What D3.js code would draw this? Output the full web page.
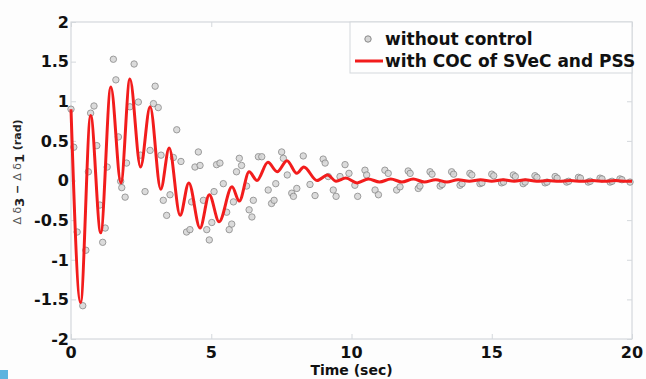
<!DOCTYPE html>
<html>
<head>
<meta charset="utf-8">
<script src="https://cdn.jsdelivr.net/npm/d3@7/dist/d3.min.js"></script>
<style>
  body { margin: 0; background: #fdfdfd; }
  svg { display: block; }
  text { font-family: 'DejaVu Sans', Verdana, sans-serif; font-weight: bold; }
</style>
</head>
<body>
<svg id="chart" width="646" height="379"></svg>
<script>
// red curve: with COC of SVeC and PSS (local extrema)
const cocTime = [0, 0.34, 0.7, 1.06, 1.42, 1.78, 2.1, 2.48, 2.82, 3.2, 3.5, 3.89, 4.2, 4.6, 4.93, 5.28, 5.74, 6.0,
    6.35, 6.63, 7.02, 7.35, 7.7, 8.05, 8.3, 8.77, 9.15, 9.45, 9.8, 10.2, 10.6, 11.0, 11.4, 11.8, 12.2, 12.6, 13.0,
    13.4, 13.8, 14.2, 14.6, 15.0, 15.4, 15.8, 16.2, 16.6, 17.0, 17.4, 17.8, 18.2, 18.6, 19.0, 19.4, 19.8, 20];
const cocValue = [0.9, -1.54, 0.82, -0.66, 1.18, -0.03, 1.28, 0.17, 0.93, -0.11, 0.41, -0.44, -0.03, -0.6, -0.18,
    -0.52, -0.08, -0.26, 0.11, 0.0, 0.23, 0.11, 0.25, 0.09, 0.17, 0.0, 0.07, -0.01, 0.03, -0.03, 0.02, -0.02, 0.02,
    -0.02, 0.02, -0.02, 0.01, -0.02, 0.01, -0.01, 0.01, -0.01, 0.01, -0.01, 0.01, -0.01, 0.0, -0.01, 0.0, -0.01,
    0.0, -0.01, 0.0, -0.01, -0.01];

// gray markers: without control
const noCtrlTime = [0, 0.1, 0.22, 0.42, 0.53, 0.62, 0.7, 0.82, 0.92, 1.03, 1.13, 1.22, 1.29, 1.51, 1.6, 1.69, 1.77,
    1.81, 1.93, 1.98, 2.1, 2.25, 2.4, 2.48, 2.64, 2.82, 2.94, 3.0, 3.11, 3.21, 3.29, 3.41, 3.53, 3.65, 3.77, 3.92,
    4.12, 4.24, 4.3, 4.42, 4.54, 4.6, 4.72, 4.84, 4.93, 5.02, 5.1, 5.19, 5.31, 5.43, 5.55, 5.64, 5.73, 5.79, 5.9,
    6.0, 6.08, 6.26, 6.35, 6.45, 6.5, 6.68, 6.8, 7.03, 7.15, 7.24, 7.3, 7.51, 7.57, 7.71, 7.87, 7.93, 8.05, 8.28,
    8.52, 8.7, 8.99, 9.06, 9.17, 9.35, 9.45, 9.59, 9.77, 9.91, 10.12, 10.22, 10.48, 10.54, 10.84, 10.96, 11.19,
    11.31, 11.61, 11.73, 12.02, 12.09, 12.38, 12.44, 12.8, 12.87, 13.16, 13.23, 13.57, 13.64, 13.87, 13.94, 14.22,
    14.29, 14.58, 14.65, 15.0, 15.07, 15.35, 15.42, 15.77, 15.84, 16.12, 16.19, 16.54, 16.61, 16.9, 16.97, 17.26,
    17.33, 17.67, 17.74, 18.09, 18.16, 18.44, 18.51, 18.86, 18.93, 19.22, 19.29, 19.57, 19.64, 19.93];
const noCtrlValue = [0.9, 0.42, -0.65, -1.58, -0.88, 0.11, 0.85, 0.94, 0.44, -0.31, -0.78, -0.6, 0.17, 1.53, 1.27,
    0.55, -0.01, -0.09, -0.21, 0.22, 0.93, 1.47, 0.99, 0.32, -0.14, 0.38, 0.97, 1.19, 0.92, 0.32, -0.25, -0.44, -0.18,
    0.29, 0.64, 0.24, -0.65, -0.62, -0.27, 0.17, 0.36, 0.19, -0.25, -0.62, -0.75, -0.53, -0.14, 0.2, 0.22, -0.04,
    -0.4, -0.62, -0.55, -0.27, 0.11, 0.28, 0.19, -0.07, -0.37, -0.46, -0.25, 0.3, 0.3, -0.12, -0.29, -0.25, -0.04,
    0.36, 0.28, 0.07, -0.16, -0.2, -0.1, 0.31, -0.05, -0.19, 0.27, 0.22, 0.05, -0.12, -0.2, 0.05, 0.2, 0.09, -0.06,
    -0.2, 0.13, 0.07, -0.12, -0.18, 0.13, 0.09, -0.12, -0.08, 0.12, 0.09, -0.1, -0.07, 0.11, 0.08, -0.07, -0.05,
    0.11, 0.08, -0.06, -0.04, 0.09, 0.07, -0.04, -0.03, 0.08, 0.06, -0.03, -0.02, 0.07, 0.05, -0.04, -0.02, 0.06,
    0.04, -0.03, -0.02, 0.05, 0.03, -0.02, -0.01, 0.04, 0.03, -0.02, -0.01, 0.03, 0.02, -0.02, -0.01, 0.02, 0.01,
    -0.02];

const xTicks = [0, 5, 10, 15, 20];
const yTicks = [-2, -1.5, -1, -0.5, 0, 0.5, 1, 1.5, 2];
const legendLabels = ['without control', 'with COC of SVeC and PSS'];

const margin = { top: 22, right: 14, bottom: 40, left: 71 };
const width = 646 - margin.left - margin.right;
const height = 379 - margin.top - margin.bottom;

const svg = d3.select('#chart');

// small blue square in the corner of the picture
svg.append('rect')
    .attr('x', 0).attr('y', 370).attr('width', 8).attr('height', 9)
    .attr('fill', '#5cb3df');

const g = svg.append('g')
    .attr('transform', `translate(${margin.left},${margin.top})`);

const x = d3.scaleLinear().domain([0, 20]).range([0, width]);
const y = d3.scaleLinear().domain([-2, 2]).range([height, 0]);

// plot box
g.append('rect')
    .attr('width', width).attr('height', height)
    .attr('fill', '#fefefe')
    .attr('stroke', '#d4d8dc')
    .attr('stroke-width', 1.2);

// ticks (inside, light)
g.append('g')
    .attr('transform', `translate(0,${height})`)
    .call(d3.axisBottom(x).tickValues(xTicks).tickSize(-5).tickFormat(''))
    .call(a => a.select('.domain').remove())
    .call(a => a.selectAll('line').attr('stroke', '#d4d8dc'));
g.append('g')
    .call(d3.axisTop(x).tickValues(xTicks).tickSize(-5).tickFormat(''))
    .call(a => a.select('.domain').remove())
    .call(a => a.selectAll('line').attr('stroke', '#d4d8dc'));
g.append('g')
    .call(d3.axisLeft(y).tickValues(yTicks).tickSize(-5).tickFormat(''))
    .call(a => a.select('.domain').remove())
    .call(a => a.selectAll('line').attr('stroke', '#d4d8dc'));
g.append('g')
    .attr('transform', `translate(${width},0)`)
    .call(d3.axisRight(y).tickValues(yTicks).tickSize(-5).tickFormat(''))
    .call(a => a.select('.domain').remove())
    .call(a => a.selectAll('line').attr('stroke', '#d4d8dc'));

// tick labels
g.append('g')
    .selectAll('text')
    .data(yTicks)
    .join('text')
    .attr('x', -2)
    .attr('y', d => y(d))
    .attr('dy', '0.36em')
    .attr('text-anchor', 'end')
    .attr('font-size', 16)
    .attr('fill', '#111')
    .text(d => d);

g.append('g')
    .selectAll('text')
    .data(xTicks)
    .join('text')
    .attr('x', d => x(d))
    .attr('y', height + 19)
    .attr('text-anchor', 'middle')
    .attr('font-size', 16)
    .attr('fill', '#111')
    .text(d => d);

// axis titles
g.append('text')
    .attr('x', width / 2)
    .attr('y', height + 36)
    .attr('text-anchor', 'middle')
    .attr('font-size', 14)
    .attr('fill', '#111')
    .text('Time (sec)');

const yl = svg.append('text')
    .attr('transform', 'translate(21,172) rotate(-90)')
    .attr('text-anchor', 'middle')
    .attr('font-size', 11)
    .attr('fill', '#222');
yl.append('tspan').attr('font-weight', 'normal').attr('fill', '#555').text('Δ δ');
yl.append('tspan').attr('dy', 3).attr('font-size', 13).text('3');
yl.append('tspan').attr('dy', -3).text(' − ');
yl.append('tspan').attr('font-weight', 'normal').attr('fill', '#555').text('Δ δ');
yl.append('tspan').attr('dy', 3).attr('font-size', 13).text('1');
yl.append('tspan').attr('dy', -3).text(' (rad)');

// series
const markers = noCtrlTime.map((t, i) => ({ t, v: noCtrlValue[i] }));
const coc = cocTime.map((t, i) => ({ t, v: cocValue[i] }));

g.append('g')
    .selectAll('circle')
    .data(markers)
    .join('circle')
    .attr('cx', d => x(d.t))
    .attr('cy', d => y(d.v))
    .attr('r', 3.2)
    .attr('fill', '#d6d6d6')
    .attr('stroke', '#8a8a8a')
    .attr('stroke-width', 1)
    .attr('opacity', 0.85);

const line = d3.line()
    .x(d => x(d.t))
    .y(d => y(d.v))
    .curve(d3.curveMonotoneX);

g.append('path')
    .datum(coc)
    .attr('d', line)
    .attr('fill', 'none')
    .attr('stroke', '#f21c1c')
    .attr('stroke-width', 3)
    .attr('stroke-linejoin', 'round');

// legend
const lg = g.append('g').attr('transform', `translate(${x(20) - 282},0)`);
lg.append('rect')
    .attr('width', 282).attr('height', 51)
    .attr('fill', '#fefefe')
    .attr('stroke', '#d4d8dc');
lg.append('circle')
    .attr('cx', 18).attr('cy', 17).attr('r', 3.2)
    .attr('fill', '#d6d6d6').attr('stroke', '#8a8a8a');
lg.append('line')
    .attr('x1', 5).attr('x2', 33).attr('y1', 39).attr('y2', 39)
    .attr('stroke', '#f21c1c').attr('stroke-width', 3);
lg.selectAll('text.leg')
    .data(legendLabels)
    .join('text')
    .attr('class', 'leg')
    .attr('x', 35)
    .attr('y', (d, i) => 23 + i * 22)
    .attr('font-size', 17)
    .attr('fill', '#111')
    .text(d => d);
</script>
</body>
</html>
